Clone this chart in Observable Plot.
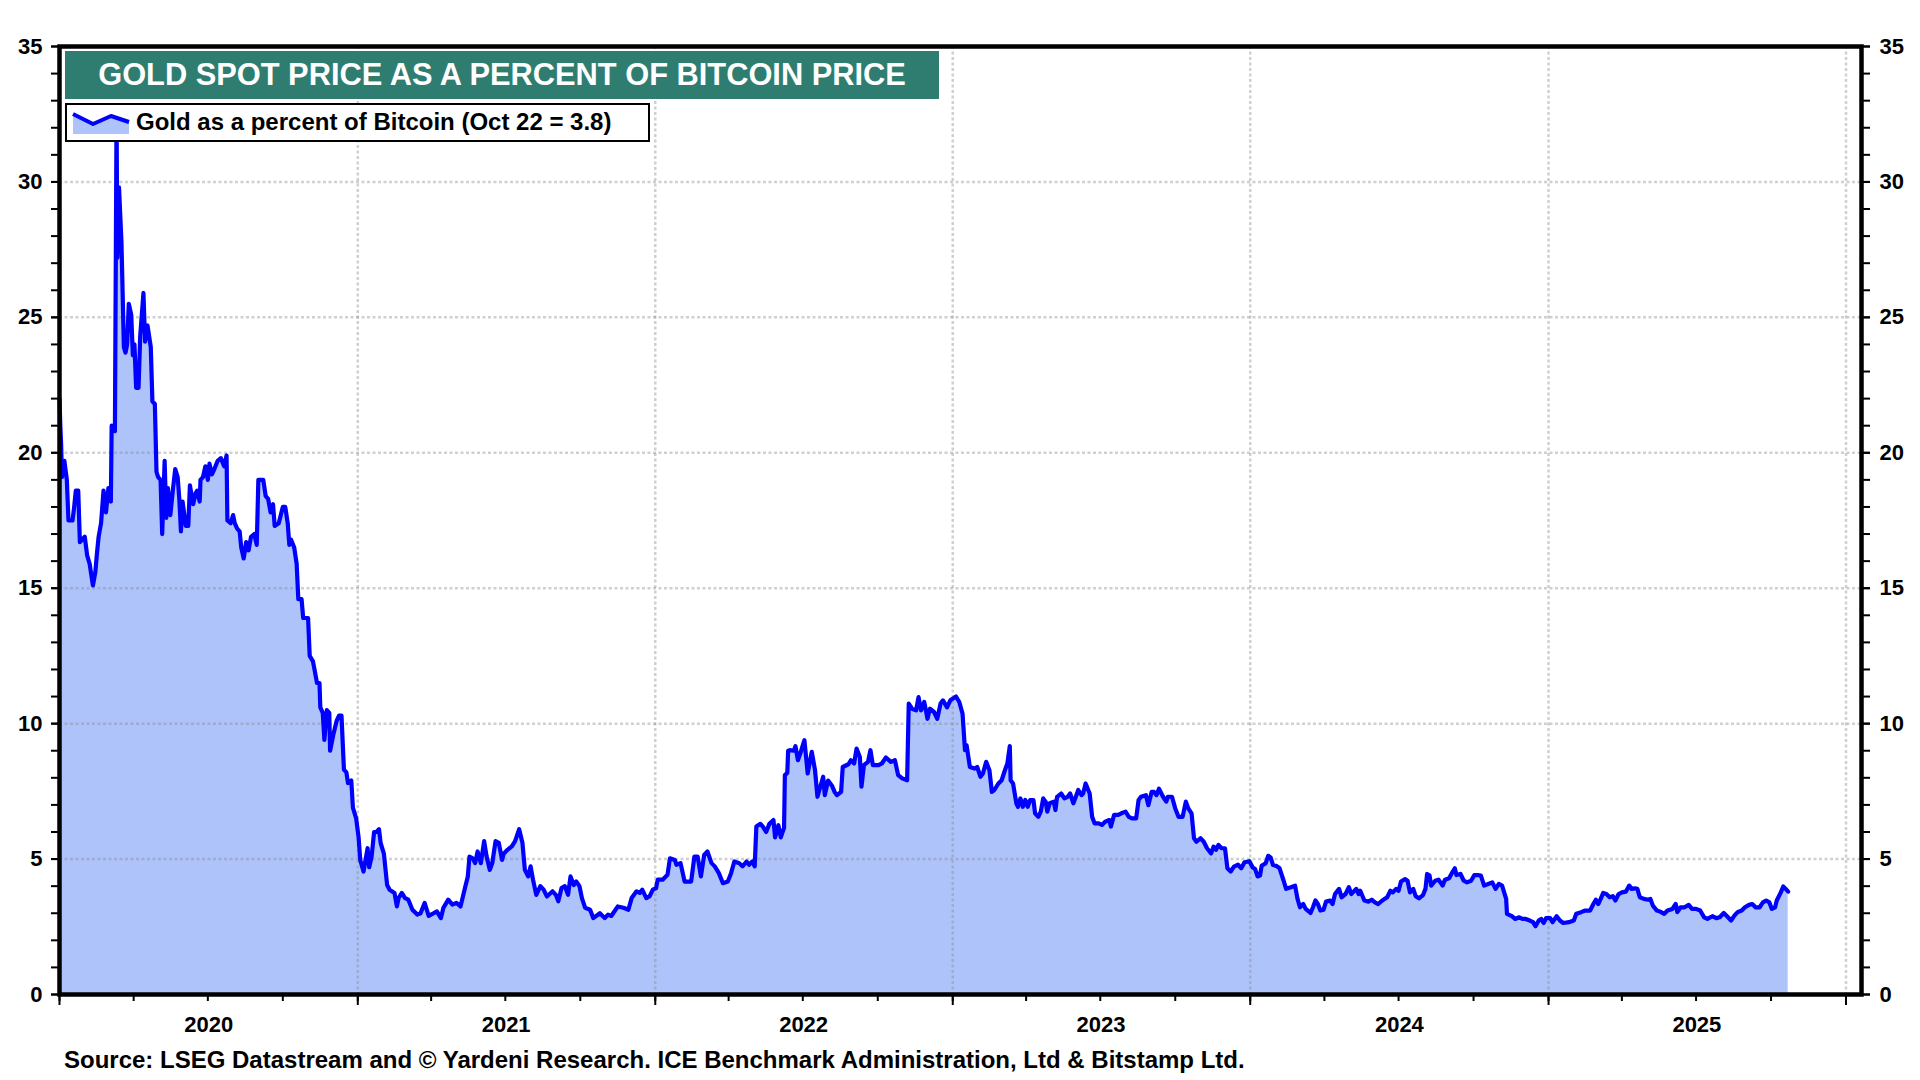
<!DOCTYPE html>
<html>
<head>
<meta charset="utf-8">
<script src="https://cdn.jsdelivr.net/npm/d3@7"></script>
<script src="https://cdn.jsdelivr.net/npm/@observablehq/plot@0.6"></script>
<style>
  html, body { margin: 0; padding: 0; background: #fff; }
  body { font-family: "Liberation Sans", Arial, sans-serif; }
  #wrap { position: relative; width: 1920px; height: 1080px; overflow: hidden; }
  #chart svg { display: block; }
  #title {
    position: absolute; left: 65px; top: 51px; width: 874px; height: 48px;
    background: #2e7d70; color: #fff; font-weight: bold; font-size: 30.8px;
    display: flex; align-items: center; justify-content: center;
  }
  #legend {
    position: absolute; left: 65px; top: 103px; width: 585px; height: 39px; box-sizing: border-box;
    background: #fff; border: 2.5px solid #000;
  }
  #legend svg { position: absolute; left: 4px; top: 5px; }
  #legend span {
    position: absolute; left: 69px; top: 0; line-height: 34px; font-weight: bold; font-size: 24px; color: #000; white-space: nowrap;
  }
  #caption {
    position: absolute; left: 64px; top: 1045px; font-weight: bold; font-size: 24px; color: #000; white-space: nowrap; line-height: 30px;
  }
</style>
</head>
<body>
<div id="wrap">
  <div id="chart"></div>
  <div id="title"></div>
  <div id="legend"></div>
  <div id="caption"></div>
</div>
<script>
// ---- Data: [day offset from Jan 1, gold as % of bitcoin] ----
const y2020 = [[0,22.0],[1,21.0],[2,20.3],[3,19.1],[6,19.7],[9,19.0],[11,17.5],[16,17.5],[18,18.0],[20,18.6],[23,18.6],[25,16.7],[31,16.9],[34,16.2],[37,15.9],[41,15.1],[44,15.6],[46,16.3],[48,16.9],[51,17.4],[54,18.6],[57,17.8],[60,18.7],[63,18.2],[64,21.0],[68,20.8],[70,32.5],[71,27.2],[73,29.8],[76,27.8],[79,23.9],[81,23.7],[83,24.0],[85,25.5],[88,25.1],[90,23.6],[92,24.0],[94,22.4],[97,22.4],[99,24.3],[103,25.9],[105,24.1],[108,24.7],[112,23.9],[114,21.9],[117,21.8],[119,19.3],[121,19.1],[124,19.0],[126,17.0],[129,19.7],[131,17.6],[133,18.7],[136,17.7],[139,18.6],[142,19.4],[145,19.1],[147,18.3],[149,17.1],[151,18.2],[155,17.3],[158,17.3],[160,18.8],[164,18.1],[167,18.5],[169,18.6],[172,18.2],[173,19.0],[176,19.1],[179,19.5],[182,19.0],[184,19.6],[187,19.2],[190,19.4],[194,19.7],[198,19.8],[202,19.5],[205,19.9],[206,17.5],[210,17.4],[213,17.7],[215,17.4],[218,17.2],[221,17.1],[223,16.5],[226,16.1],[229,16.7],[232,16.4],[235,16.9],[239,17.0],[242,16.6],[244,19.0],[250,19.0],[253,18.4],[256,18.3],[259,17.8],[262,18.1],[264,17.3],[269,17.4],[274,18.0],[277,18.0],[280,17.4],[282,16.6],[284,16.8],[288,16.5],[291,15.9],[293,14.6],[297,14.6],[299,13.9],[305,13.9],[307,12.5],[311,12.3],[316,11.5],[319,11.5],[320,10.6],[323,10.4],[325,9.4],[328,10.5],[331,10.4],[332,9.0],[336,9.6],[340,10.1],[343,10.3],[346,10.3],[349,8.3],[352,8.2],[354,7.8],[358,7.9],[360,6.9],[364,6.5]];
const y2021 = [[1,5.8],[3,4.97],[7,4.54],[12,5.4],[14,4.7],[17,5.1],[20,6.0],[23,6.0],[26,6.1],[28,5.6],[32,5.2],[36,4.04],[39,3.87],[45,3.75],[48,3.25],[50,3.56],[54,3.75],[58,3.56],[62,3.5],[67,3.13],[73,2.95],[77,3.0],[82,3.38],[87,2.9],[93,3.0],[97,3.07],[102,2.82],[105,3.2],[111,3.5],[116,3.32],[121,3.38],[126,3.25],[129,3.62],[132,4.0],[135,4.36],[137,5.09],[141,5.03],[144,4.85],[147,5.28],[151,4.85],[155,5.66],[158,5.1],[162,4.6],[165,4.85],[169,5.66],[173,5.6],[177,4.97],[179,5.2],[184,5.35],[189,5.47],[193,5.66],[198,6.1],[202,5.6],[205,4.6],[209,4.36],[212,4.73],[215,4.24],[219,3.68],[224,4.0],[228,3.87],[232,3.62],[239,3.81],[243,3.68],[246,3.44],[250,3.93],[254,4.0],[258,3.68],[261,4.36],[265,4.04],[268,4.17],[272,4.0],[275,3.56],[279,3.2],[285,3.13],[289,2.82],[297,3.0],[303,2.82],[307,2.95],[311,2.9],[319,3.25],[326,3.2],[332,3.13],[336,3.56],[342,3.81],[346,3.75],[349,3.87],[354,3.56],[358,3.62],[362,3.87]];
const y2022 = [[1,3.93],[3,4.24],[9,4.24],[15,4.42],[18,5.03],[24,4.97],[26,4.79],[31,4.85],[36,4.17],[40,4.17],[44,4.17],[48,5.09],[52,5.09],[56,4.36],[60,5.15],[64,5.28],[69,4.85],[73,4.73],[78,4.48],[83,4.11],[89,4.17],[93,4.48],[97,4.91],[103,4.85],[107,4.73],[112,4.91],[115,4.79],[119,4.91],[122,4.73],[124,6.2],[129,6.3],[132,6.2],[136,6.0],[140,6.3],[145,6.44],[147,5.8],[151,6.25],[154,5.8],[158,6.15],[159,8.1],[162,8.18],[163,9.0],[165,9.02],[170,9.0],[172,9.17],[175,8.65],[179,9.0],[183,9.39],[187,8.16],[192,8.96],[196,8.28],[199,7.3],[206,8.04],[208,7.36],[212,7.9],[217,7.7],[220,7.48],[223,7.36],[228,7.48],[230,8.4],[237,8.5],[240,8.65],[244,8.53],[247,9.08],[251,8.77],[253,7.67],[256,8.47],[261,8.59],[264,9.02],[267,8.47],[274,8.47],[278,8.53],[283,8.75],[289,8.59],[294,8.65],[298,8.1],[303,7.98],[309,7.91],[311,10.74],[315,10.55],[320,10.49],[323,10.98],[326,10.49],[330,10.8],[334,10.18],[337,10.55],[342,10.43],[346,10.18],[350,10.74],[353,10.86],[358,10.6],[362,10.86]];
const y2023 = [[4,11.0],[8,10.8],[12,10.37],[15,9.02],[17,9.2],[21,8.4],[27,8.34],[30,8.4],[34,8.04],[37,8.16],[41,8.59],[45,8.28],[48,7.48],[51,7.55],[56,7.79],[60,7.91],[64,8.28],[67,8.53],[70,9.17],[71,7.91],[74,7.79],[78,7.06],[80,6.93],[83,7.24],[86,6.93],[89,7.18],[92,6.93],[95,7.18],[99,7.18],[101,6.69],[105,6.56],[108,6.75],[111,7.24],[114,7.12],[116,6.75],[119,7.06],[124,7.12],[126,6.81],[128,7.3],[133,7.42],[137,7.24],[141,7.3],[144,7.42],[148,7.06],[151,7.3],[154,7.55],[158,7.36],[160,7.42],[163,7.79],[168,7.42],[171,6.56],[174,6.32],[179,6.32],[183,6.26],[187,6.38],[192,6.44],[194,6.2],[198,6.63],[203,6.63],[207,6.69],[212,6.75],[216,6.56],[220,6.5],[225,6.5],[228,7.18],[231,7.3],[237,7.36],[240,6.99],[244,7.48],[247,7.48],[250,7.36],[253,7.6],[258,7.3],[262,7.12],[264,7.3],[269,7.3],[273,6.87],[277,6.56],[282,6.56],[286,7.12],[289,6.87],[293,6.69],[296,5.77],[299,5.64],[304,5.77],[308,5.64],[312,5.4],[317,5.21],[320,5.46],[323,5.34],[326,5.52],[330,5.4],[334,5.4],[337,4.66],[341,4.54],[345,4.72],[350,4.79],[354,4.66],[358,4.88],[364,4.92]];
const y2024 = [[3,4.69],[6,4.63],[9,4.36],[12,4.39],[14,4.75],[19,4.85],[22,5.12],[25,5.06],[28,4.78],[32,4.75],[36,4.66],[41,4.2],[44,3.9],[50,3.96],[55,4.02],[58,3.53],[61,3.22],[65,3.34],[68,3.16],[74,3.01],[77,3.22],[80,3.47],[83,3.34],[86,3.1],[90,3.13],[93,3.43],[98,3.47],[101,3.34],[104,3.71],[109,3.9],[112,3.59],[117,3.71],[121,3.96],[124,3.71],[130,3.9],[133,3.71],[135,3.83],[140,3.47],[145,3.43],[149,3.5],[153,3.4],[157,3.34],[162,3.47],[168,3.59],[172,3.83],[175,3.77],[179,3.9],[182,3.83],[185,4.17],[190,4.26],[193,4.2],[196,3.77],[200,3.9],[203,3.63],[207,3.55],[212,3.67],[215,3.9],[217,4.45],[220,4.39],[222,4.02],[227,4.2],[231,4.24],[236,4.02],[239,4.24],[244,4.29],[248,4.51],[251,4.66],[253,4.41],[258,4.45],[262,4.2],[266,4.14],[271,4.2],[275,4.41],[279,4.41],[283,4.39],[287,4.02],[292,4.08],[297,4.14],[301,3.9],[305,4.08],[309,4.02],[314,3.53],[315,2.98],[321,2.89],[325,2.79],[330,2.85],[334,2.79],[338,2.79],[343,2.73],[347,2.67],[350,2.52],[354,2.73],[357,2.79],[360,2.64],[363,2.82]];
const y2025 = [[2,2.82],[5,2.67],[10,2.89],[14,2.73],[18,2.64],[25,2.67],[31,2.73],[34,2.98],[40,3.04],[45,3.1],[51,3.1],[55,3.34],[58,3.5],[61,3.34],[64,3.53],[67,3.75],[71,3.71],[75,3.59],[79,3.63],[82,3.47],[86,3.71],[90,3.77],[95,3.8],[99,4.02],[102,3.9],[106,3.92],[109,3.9],[112,3.59],[117,3.53],[122,3.5],[125,3.53],[128,3.28],[133,3.1],[137,3.06],[142,2.98],[146,3.1],[152,3.16],[156,3.34],[158,3.04],[162,3.22],[167,3.22],[172,3.31],[176,3.16],[181,3.16],[186,3.1],[191,2.85],[195,2.79],[201,2.89],[206,2.82],[210,2.85],[215,3.01],[219,2.89],[224,2.73],[228,2.91],[232,3.04],[237,3.1],[241,3.22],[246,3.31],[250,3.34],[254,3.22],[259,3.22],[263,3.4],[267,3.47],[271,3.4],[274,3.16],[278,3.22],[280,3.47],[285,3.77],[288,3.99],[291,3.9],[294,3.8]];

const seriesByYear = [[2020, y2020], [2021, y2021], [2022, y2022], [2023, y2023], [2024, y2024], [2025, y2025]];

// ---- Axis / tick labels ----
const yTickLabels = [0, 5, 10, 15, 20, 25, 30, 35];
const yGridValues = [5, 10, 15, 20, 25, 30];
const yearLabels = ["2020", "2021", "2022", "2023", "2024", "2025"];
const yearBoundaries = ["2020", "2021", "2022", "2023", "2024", "2025", "2026"];
const xDomain = ["2020-01-01", "2026-01-20"];

const titleText = "GOLD SPOT PRICE AS A PERCENT OF BITCOIN PRICE";
const legendText = "Gold as a percent of Bitcoin (Oct 22 = 3.8)";
const captionText = "Source: LSEG Datastream and \u00A9 Yardeni Research. ICE Benchmark Administration, Ltd & Bitstamp Ltd.";

// ---- Build table ----
const data = seriesByYear.flatMap(([yr, arr]) =>
  arr.map(([d, v]) => ({ date: new Date(Date.UTC(yr, 0, 1 + d)), value: v }))
);
const yearStarts = yearBoundaries.map(y => new Date(Date.UTC(+y, 0, 1)));
const yearMids = yearLabels.map(y => ({ date: new Date(Date.UTC(+y, 6, 2)), label: y }));
const quarterTicks = d3.utcMonth.every(3).range(new Date(Date.UTC(2020, 0, 1)), new Date(Date.UTC(2026, 0, 2)));
const yMinor = d3.range(0, 36, 1);

const FONT = "Liberation Sans, Arial, sans-serif";
const BLUE = "#0000ff";
const FILL = "#afc3fb";

const chart = Plot.plot({
  width: 1920,
  height: 1040,
  marginLeft: 59,
  marginRight: 59,
  marginTop: 46,
  marginBottom: 46,
  style: { fontFamily: FONT, fontWeight: "bold", color: "#000", background: "transparent" },
  x: { type: "utc", domain: xDomain.map(s => new Date(s + "T00:00:00Z")) },
  y: { domain: [0, 35] },
  marks: [
    Plot.areaY(data, { x: "date", y: "value", fill: FILL, curve: "linear" }),
    Plot.gridX(yearStarts.slice(1), { stroke: "#8a8a8a", strokeOpacity: 0.4, strokeWidth: 2.5, strokeDasharray: "3,2.5" }),
    Plot.gridY(yGridValues, { stroke: "#8a8a8a", strokeOpacity: 0.4, strokeWidth: 2.5, strokeDasharray: "3,2.5" }),
    Plot.lineY(data, { x: "date", y: "value", stroke: BLUE, strokeWidth: 4.2, strokeLinejoin: "round" }),
    // left axis
    Plot.axisY(yMinor, { anchor: "left", tickSize: 8, strokeWidth: 2, fill: "none", label: null }),
    Plot.axisY(yTickLabels, { anchor: "left", tickSize: 8, tickPadding: 9, strokeWidth: 2, fontSize: 22, fontWeight: "bold", label: null }),
    // right axis
    Plot.axisY(yMinor, { anchor: "right", tickSize: 8, strokeWidth: 2, fill: "none", label: null }),
    Plot.axisY(yTickLabels, { anchor: "right", tickSize: 8, tickPadding: 10, strokeWidth: 2, fontSize: 22, fontWeight: "bold", label: null }),
    // x axis ticks
    Plot.axisX(quarterTicks, { anchor: "bottom", tickSize: 7, strokeWidth: 2, fill: "none", label: null }),
    Plot.axisX(yearStarts, { anchor: "bottom", tickSize: 11, strokeWidth: 2, fill: "none", label: null }),
    Plot.text(yearMids, { x: "date", text: "label", frameAnchor: "bottom", dy: 37, fontSize: 22, fontWeight: "bold", fill: "#000" }),
    Plot.frame({ stroke: "#000", strokeWidth: 4.5 })
  ]
});
document.getElementById("chart").appendChild(chart);

// ---- Title, legend, caption ----
document.getElementById("title").textContent = titleText;
const legend = document.getElementById("legend");
legend.innerHTML =
  '<svg width="60" height="26" viewBox="0 0 60 26">' +
  '<polygon points="2,4 22,14 40,6 58,12 58,24 2,24" fill="' + FILL + '"/>' +
  '<polyline points="2,4 22,14 40,6 58,12" fill="none" stroke="' + BLUE + '" stroke-width="4" stroke-linejoin="round"/>' +
  '</svg>';
const span = document.createElement("span");
span.textContent = legendText;
legend.appendChild(span);
document.getElementById("caption").textContent = captionText;
</script>
</body>
</html>
